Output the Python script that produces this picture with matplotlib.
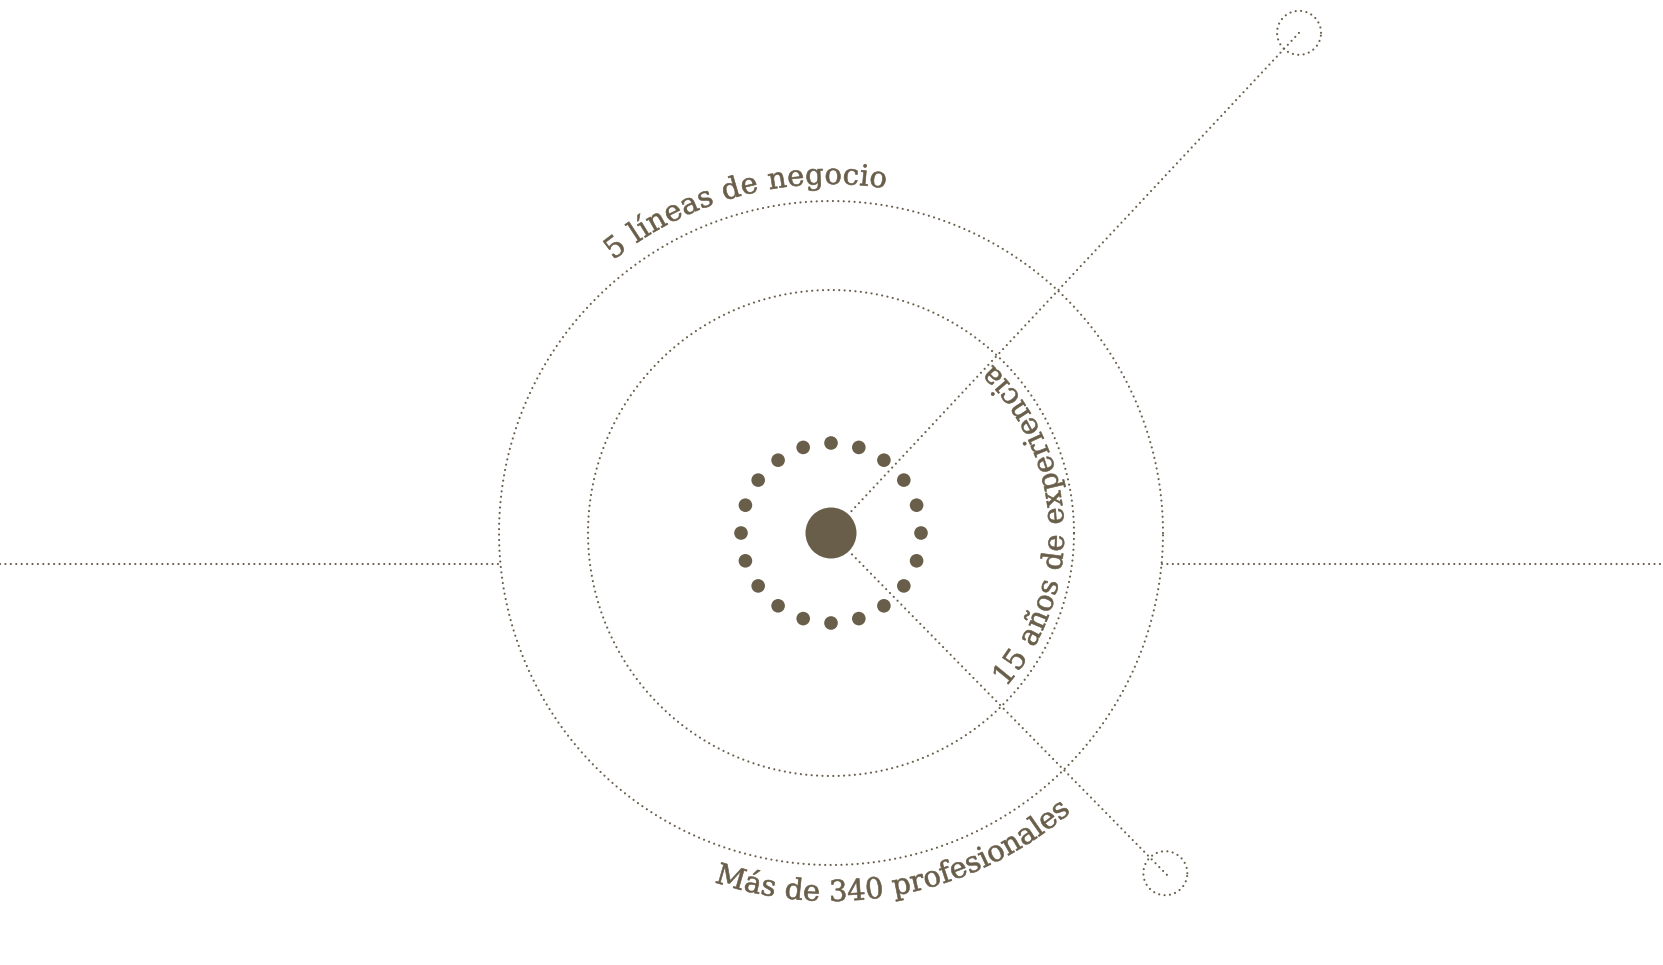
import numpy as np
import matplotlib
matplotlib.use("Agg")
import matplotlib.pyplot as plt
from matplotlib.patches import Circle, PathPatch
from matplotlib.path import Path
from matplotlib.textpath import TextPath
from matplotlib.font_manager import FontProperties, findfont, get_font
try:
    from matplotlib.ft2font import LoadFlags
    NOHINT = LoadFlags.NO_HINTING
except Exception:
    from matplotlib.ft2font import LOAD_NO_HINTING as NOHINT

# ---------------- data ----------------
ring_radii = [243, 332]                 # inner / outer dotted rings
n_center_dots = 20                      # small dots around the hub
labels = ["5 líneas de negocio", "Más de 340 profesionales", "15 años de experiencia"]
label_angles = [(127.1, 82.4), (253.8, 309.6), (-39.2, 44.2)]   # first/last glyph angle (deg)
spoke_angles = [46.9, -45.5]            # diagonal spokes (deg)
spoke_lengths = [685, 477]

# ---------------- style ----------------
W, H = 1663, 965
COLOR = '#695e4a'
CX, CY = 831, 965 - 533
LW = 2.2 * 72 / 100
DOT = dict(color=COLOR, lw=LW, linestyle=(0, (0.01, 2.45)),
           dash_capstyle='round', solid_capstyle='round')

fig = plt.figure(figsize=(W / 100, H / 100), dpi=100)
ax = fig.add_axes([0, 0, 1, 1])
ax.set_xlim(0, W)
ax.set_ylim(0, H)
ax.axis('off')

t = np.linspace(0, 2 * np.pi, 720)
for r in ring_radii:
    ax.plot(CX + r * np.cos(t), CY + r * np.sin(t), **DOT)

# horizontal line (slightly below the centre), stopping at outer ring
hy = 965 - 564
R = ring_radii[1]
dxh = np.sqrt(R ** 2 - (CY - hy) ** 2)
ax.plot([0, CX - dxh], [hy, hy], **DOT)
ax.plot([CX + dxh, W], [hy, hy], **DOT)

# spokes with small end circles
for ang, ln in zip(spoke_angles, spoke_lengths):
    a = np.radians(ang)
    ex, ey = CX + ln * np.cos(a), CY + ln * np.sin(a)
    ax.plot([CX + 30 * np.cos(a), CX + (ln + 5) * np.cos(a)],
            [CY + 30 * np.sin(a), CY + (ln + 5) * np.sin(a)], **DOT)
    ax.plot(ex + 22 * np.cos(t), ey + 22 * np.sin(t), **DOT)

# hub and ring of dots
ax.add_patch(Circle((CX, CY), 25.5, color=COLOR, lw=0))
for k in range(n_center_dots):
    a = 2 * np.pi * k / n_center_dots
    ax.add_patch(Circle((CX + 90 * np.cos(a), CY + 90 * np.sin(a)), 6.8, color=COLOR, lw=0))

# curved text
prop = FontProperties(family='DejaVu Serif')
FS = 29


def arc_text(text, r_base, a0, a1, up_sign):
    font = get_font(findfont(prop))
    font.set_size(FS, 72)
    advs = [font.load_char(ord(ch), flags=NOHINT).linearHoriAdvance / 65536 for ch in text]
    cum = np.concatenate([[0], np.cumsum(advs)[:-1]]) + np.array(advs) / 2
    n = len(text)
    D = cum[-1] - cum[0]
    L = abs(np.radians(a1 - a0)) * r_base
    extra = (L - D) / (n - 1)
    sgn = 1 if a1 > a0 else -1
    for i, ch in enumerate(text):
        if ch == ' ':
            continue
        s = cum[i] - cum[0] + i * extra
        phi = np.radians(a0) + sgn * s / r_base
        c, sn = np.cos(phi), np.sin(phi)
        if sgn > 0:
            tv = np.array([-sn, c])
        else:
            tv = np.array([sn, -c])
        uv = up_sign * np.array([c, sn])
        P = np.array([CX + r_base * c, CY + r_base * sn])
        tp = TextPath((0, 0), ch, size=FS, prop=prop)
        v = tp.vertices
        if len(v) == 0:
            continue
        gx = v[:, 0] - advs[i] / 2
        gy = v[:, 1]
        nv = P[None, :] + gx[:, None] * tv[None, :] + gy[:, None] * uv[None, :]
        ax.add_patch(PathPatch(Path(nv, tp.codes), facecolor=COLOR,
                               edgecolor=COLOR, lw=0.45))


arc_text(labels[0], 349, *label_angles[0], up_sign=1)
arc_text(labels[1], 368, *label_angles[1], up_sign=-1)
arc_text(labels[2], 233, *label_angles[2], up_sign=-1)

fig.savefig('out.png', dpi=100)
